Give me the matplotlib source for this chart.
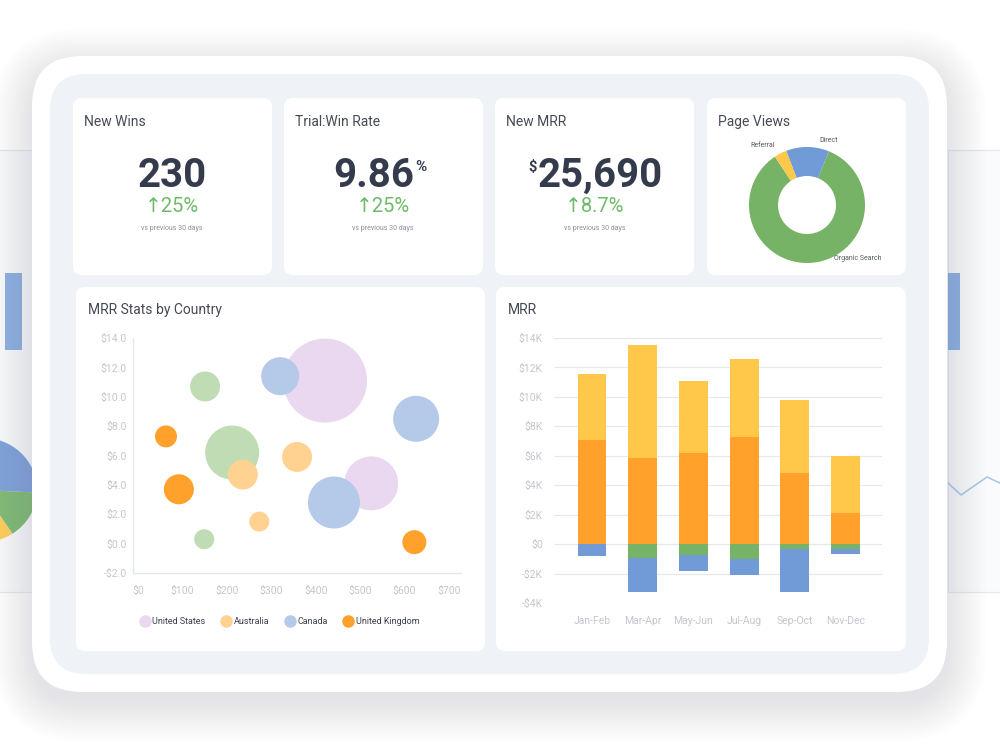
import matplotlib
matplotlib.use('Agg')
import matplotlib.pyplot as plt
from matplotlib.patches import FancyBboxPatch
from matplotlib.lines import Line2D

plt.rcParams['font.family'] = ['Roboto', 'DejaVu Sans']

# ---------------- data ----------------
kpi_titles = ['New Wins', 'Trial:Win Rate', 'New MRR']
kpi_values = ['230', '9.86', '25,690']
kpi_prefix = ['', '', '$']
kpi_suffix = ['', '%', '']
kpi_change = ['↑25%', '↑25%', '↑8.7%']
kpi_note = 'vs previous 30 days'

pv_labels = ['Direct', 'Organic Search', 'Referral']
pv_share = [12.0, 84.5, 3.5]

bubble_series = ['United States', 'Australia', 'Canada', 'United Kingdom']
us_x = [421, 525]
us_y = [11.1, 4.1]
us_size = [42, 27]
au_x = [358, 236, 273]
au_y = [5.9, 4.7, 1.5]
au_size = [15, 15, 10]
ca_x = [320, 626, 441]
ca_y = [11.4, 8.5, 2.8]
ca_size = [19, 23, 26]
uk_x = [63, 92, 622]
uk_y = [7.3, 3.7, 0.1]
uk_size = [11, 15, 12]
other_x = [151, 212, 149]
other_y = [10.7, 6.2, 0.3]
other_size = [15, 27, 10]
bubble_xticks = [0, 100, 200, 300, 400, 500, 600, 700]
bubble_xticklabels = ['$0', '$100', '$200', '$300', '$400', '$500', '$600', '$700']
bubble_yticks = [-2, 0, 2, 4, 6, 8, 10, 12, 14]
bubble_yticklabels = ['-$2.0', '$0.0', '$2.0', '$4.0', '$6.0', '$8.0', '$10.0', '$12.0', '$14.0']

periods = ['Jan-Feb', 'Mar-Apr', 'May-Jun', 'Jul-Aug', 'Sep-Oct', 'Nov-Dec']
mrr_new = [7.08, 5.85, 6.19, 7.28, 4.83, 2.11]
mrr_expansion = [4.45, 7.70, 4.91, 5.27, 4.95, 3.90]
mrr_contraction = [0.0, -0.95, -0.77, -1.02, -0.34, -0.32]
mrr_churn = [-0.82, -2.27, -1.07, -1.09, -2.88, -0.34]
mrr_yticks = [-4, -2, 0, 2, 4, 6, 8, 10, 12, 14]
mrr_yticklabels = ['-$4K', '-$2K', '$0', '$2K', '$4K', '$6K', '$8K', '$10K', '$12K', '$14K']

# faint background dashboards (blurred, behind the device)
side_left_bar = [0.36]
side_left_pie = [48, 15, 5, 32]
side_right_bar = [0.36]
side_right_line = [0.45, 0.25, 0.40, 0.55, 0.45]

# ---------------- colours ----------------
C_US, C_AU, C_CA, C_UK, C_OT = '#ead7f0', '#ffd291', '#b5c9e9', '#ffa12b', '#bfdcb5'
C_ORANGE, C_YELLOW, C_GREEN, C_BLUE = '#ffa12b', '#ffc84b', '#77b366', '#709bd6'
C_NUM, C_TITLE, C_UP, C_TICK = '#343b4d', '#454a54', '#6dbb69', '#c3c7cd'

fig = plt.figure(figsize=(10, 7.5), dpi=100)
fig.patch.set_facecolor('white')

def px_axes(x0, y0, x1, y1, z=2):
    return fig.add_axes([x0 / 1000, 1 - y1 / 750, (x1 - x0) / 1000, (y1 - y0) / 750], zorder=z)

# ---- blurred side panels ----
sl = px_axes(-40, 150, 33, 592, z=-2)
sl.set_facecolor('#fafbfc')
for s in sl.spines.values():
    s.set_color('#e4e7eb')
sl.set_xticks([]); sl.set_yticks([])
slb = px_axes(-40, 200, 33, 350, z=-1)
slb.bar([13.5], side_left_bar, width=17, color='#7ea3da', alpha=0.85)
slb.set_xlim(-40, 33); slb.set_ylim(0, 0.7); slb.axis('off')
slp = px_axes(-75, 435, 40, 545, z=-1)
slp.pie(side_left_pie, colors=['#6f9bd6', '#77b366', '#ffc84b', '#77b366'], startangle=170,
        counterclock=False, radius=0.95, wedgeprops=dict(linewidth=0, alpha=0.9))
slp.set_xlim(-1, 1); slp.set_ylim(-1, 1); slp.set_aspect('auto')

sr = px_axes(948, 150, 1040, 592, z=-2)
sr.set_facecolor('#fafbfc')
for s in sr.spines.values():
    s.set_color('#e4e7eb')
sr.set_xticks([]); sr.set_yticks([])
srb = px_axes(948, 200, 1040, 350, z=-1)
srb.bar([954], side_right_bar, width=12, color='#7ea3da', alpha=0.85)
srb.set_xlim(948, 1040); srb.set_ylim(0, 0.7); srb.axis('off')
srl = px_axes(948, 450, 1000, 510, z=-1)
srl.plot(range(len(side_right_line)), side_right_line, color='#8fb0e0', lw=1.2, alpha=0.7)
srl.set_xlim(0, len(side_right_line) - 1); srl.set_ylim(0, 1); srl.axis('off')

# ---- background / device frame ----
bg = fig.add_axes([0, 0, 1, 1], zorder=0)
bg.set_xlim(0, 1000); bg.set_ylim(750, 0); bg.axis('off')

def rbox(x0, y0, x1, y1, r, fc, z=1, alpha=1.0, ec='none', lw=0):
    bg.add_patch(FancyBboxPatch((x0, y0), x1 - x0, y1 - y0,
                                boxstyle=f'round,pad=0,rounding_size={r}',
                                fc=fc, ec=ec, lw=lw, zorder=z, alpha=alpha))

for i in range(14):
    g = 3 * i
    rbox(32 - g, 60 - g + 8, 947 + g, 692 + g + 10, 50 + g, '#7c8898', z=1, alpha=0.011)
rbox(32, 56, 947, 692, 50, 'white', z=2)
rbox(50, 74, 929, 674, 36, '#eff2f6', z=3)

cards = [(73, 98, 272, 275), (284, 98, 483, 275), (495, 98, 694, 275), (707, 98, 906, 275),
         (76, 287, 485, 651), (496, 287, 906, 651)]
for (x0, y0, x1, y1) in cards:
    rbox(x0, y0, x1, y1, 9, 'white', z=4)

# ---- KPI cards ----
kpi_cx = [172.5, 374, 600]
up_cx = [172, 383, 595]
for i in range(3):
    x0 = cards[i][0]
    bg.text(x0 + 11, 126, kpi_titles[i], fontsize=10, color=C_TITLE, va='baseline', ha='left', zorder=6)
    t = bg.text(kpi_cx[i], 187, kpi_values[i], fontsize=29, fontweight='bold', color=C_NUM,
                ha='center', va='baseline', zorder=6)
    if kpi_prefix[i]:
        bg.annotate(kpi_prefix[i], xy=(0, 1), xycoords=t, xytext=(-0.5, -2), textcoords='offset points',
                    ha='right', va='top', fontsize=10.5, fontweight='bold', color=C_NUM, zorder=6)
    if kpi_suffix[i]:
        bg.annotate(kpi_suffix[i], xy=(1, 1), xycoords=t, xytext=(0.5, -2), textcoords='offset points',
                    ha='left', va='top', fontsize=11, fontweight='bold', color=C_NUM, zorder=6)
    bg.text(up_cx[i], 212, kpi_change[i], fontsize=14.5, color=C_UP, ha='center', va='baseline',
            family=['Roboto', 'DejaVu Sans'], zorder=6)
    bg.text(up_cx[i], 230, kpi_note, fontsize=5, color='#8b9099', ha='center', va='baseline', zorder=6)

bg.text(718, 126, 'Page Views', fontsize=10, color=C_TITLE, va='baseline', zorder=6)
bg.text(88, 314, 'MRR Stats by Country', fontsize=10, color=C_TITLE, va='baseline', zorder=6)
bg.text(508, 314, 'MRR', fontsize=10, color=C_TITLE, va='baseline', zorder=6)

# ---- Page Views donut ----
pax = px_axes(749, 147, 865, 263, z=5)
pax.pie(pv_share, colors=[C_BLUE, C_GREEN, C_YELLOW], startangle=111, counterclock=False,
        radius=1.0, wedgeprops=dict(width=0.5, linewidth=0))
pax.set_xlim(-1, 1); pax.set_ylim(-1, 1)
pax.text(-0.55, 1.02, pv_labels[2], fontsize=5, color='#555a63', ha='right', va='center', clip_on=False)
pax.text(0.22, 1.11, pv_labels[0], fontsize=5, color='#555a63', ha='left', va='center', clip_on=False)
pax.text(0.47, -0.93, pv_labels[1], fontsize=5, color='#555a63', ha='left', va='center', clip_on=False)

# ---- MRR Stats by Country (bubble) ----
bax = px_axes(133, 338, 461, 573, z=5)
bax.set_facecolor('none')

def sz(r):
    return [(1.44 * v) ** 2 for v in r]

bax.scatter(other_x, other_y, s=sz(other_size), color=C_OT, linewidths=0, zorder=2, clip_on=False)
bax.scatter(us_x, us_y, s=sz(us_size), color=C_US, linewidths=0, zorder=3, clip_on=False)
bax.scatter(ca_x, ca_y, s=sz(ca_size), color=C_CA, linewidths=0, zorder=4, clip_on=False)
bax.scatter(au_x, au_y, s=sz(au_size), color=C_AU, linewidths=0, zorder=5, clip_on=False)
bax.scatter(uk_x, uk_y, s=sz(uk_size), color=C_UK, linewidths=0, zorder=6, clip_on=False)
bax.set_xlim(-11.25, 727)
bax.set_ylim(-2, 14)
bax.set_xticks(bubble_xticks, bubble_xticklabels)
bax.set_yticks(bubble_yticks, bubble_yticklabels)
bax.tick_params(axis='both', length=0, labelsize=7.5, labelcolor=C_TICK)
bax.tick_params(axis='y', pad=4.5)
bax.tick_params(axis='x', pad=9)
for k in ['top', 'right']:
    bax.spines[k].set_visible(False)
for k in ['left', 'bottom']:
    bax.spines[k].set_color('#e5e8ec')
    bax.spines[k].set_linewidth(1)

handles = [Line2D([], [], marker='o', linestyle='none', markersize=9, markerfacecolor=c,
                  markeredgewidth=0) for c in [C_US, C_AU, C_CA, C_UK]]
fig.legend(handles, bubble_series, loc='center', bbox_to_anchor=(0.280, 1 - 622 / 750), ncol=4,
           frameon=False, fontsize=6.5, labelcolor='#3a3f48', handletextpad=0.3,
           columnspacing=1.8, handlelength=1.0)

# ---- MRR stacked bars ----
max_ = px_axes(554, 338, 882, 603, z=5)
max_.set_facecolor('none')
xs = list(range(len(periods)))
w = 0.57
max_.bar(xs, mrr_new, width=w, color=C_ORANGE, linewidth=0, zorder=3)
max_.bar(xs, mrr_expansion, bottom=mrr_new, width=w, color=C_YELLOW, linewidth=0, zorder=3)
max_.bar(xs, mrr_contraction, width=w, color=C_GREEN, linewidth=0, zorder=3)
max_.bar(xs, mrr_churn, bottom=mrr_contraction, width=w, color=C_BLUE, linewidth=0, zorder=3)
max_.set_xlim(-0.75, 5.72)
max_.set_ylim(-4, 14)
max_.set_yticks(mrr_yticks, mrr_yticklabels)
max_.set_xticks(xs, periods)
max_.grid(axis='y', color='#e6e8eb', linewidth=0.9, zorder=0)
max_.set_axisbelow(True)
for s in max_.spines.values():
    s.set_visible(False)
max_.tick_params(axis='both', length=0, labelsize=7.5, labelcolor=C_TICK)
max_.tick_params(axis='y', pad=8)
max_.tick_params(axis='x', pad=9)

fig.savefig('out.png', dpi=100)
